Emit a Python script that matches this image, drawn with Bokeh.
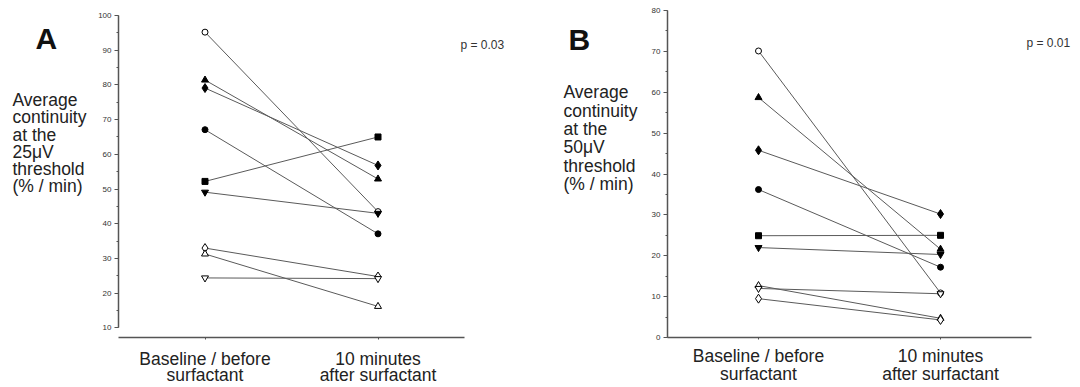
from bokeh.plotting import figure
from bokeh.layouts import row
from bokeh.models import ColumnDataSource, FixedTicker, SingleIntervalTicker, Label, Range1d
from bokeh.embed import file_html
from bokeh.resources import INLINE

# ---------------- data ----------------
timepoints = [0, 1]
time_labels = ["Baseline / before\nsurfactant", "10 minutes\nafter surfactant"]

a_markers = ["circle", "triangle", "diamond", "circle", "square",
             "inverted_triangle", "diamond", "triangle", "inverted_triangle"]
a_filled = [False, True, True, True, True, True, False, False, False]
a_baseline = [95.2, 81.4, 79.1, 67.1, 52.2, 49.1, 33.0, 31.3, 24.4]
a_after = [43.5, 52.9, 56.8, 37.1, 65.0, 43.0, 24.8, 16.2, 24.2]

b_markers = ["circle", "triangle", "diamond", "circle", "square",
             "inverted_triangle", "triangle", "inverted_triangle", "diamond"]
b_filled = [False, True, True, True, True, True, False, False, False]
b_baseline = [70.1, 58.7, 45.8, 36.2, 24.9, 22.0, 12.7, 12.0, 9.5]
b_after = [10.9, 21.6, 30.2, 17.2, 25.0, 20.3, 4.7, 10.7, 4.3]

a_title = "Average\ncontinuity\nat the\n25\u03bcV\nthreshold\n(% / min)"
b_title = "Average\ncontinuity\nat the\n50\u03bcV\nthreshold\n(% / min)"
a_pvalue = "p = 0.03"
b_pvalue = "p = 0.01"

FONT = "Liberation Sans"
SIZES = {"circle": 6, "triangle": 7, "diamond": 9, "square": 6, "inverted_triangle": 7}
H = 387
TOP, BOTTOM = 8, 49          # shared frame borders (frames are aligned in a row)


def text_panel(width, letter, letter_pos, title, title_pos, title_lh):
    """Narrow figure for the panel letter and the horizontal y-axis title.
    Its ranges are set in canvas pixels so the texts sit where the reference has them."""
    t = figure(width=width, height=H, output_backend="svg", toolbar_location=None,
               x_axis_type=None, y_axis_type=None, title=None,
               x_range=Range1d(0, width), y_range=Range1d(H - BOTTOM, TOP),
               min_border_left=0, min_border_right=0,
               min_border_top=TOP, min_border_bottom=BOTTOM)
    t.outline_line_color = None
    t.add_layout(Label(x=letter_pos[0], y=letter_pos[1],
                       text=letter, text_font=FONT, text_font_size="30px",
                       text_font_style="bold", text_color="#111111",
                       text_baseline="top"))
    t.add_layout(Label(x=title_pos[0], y=title_pos[1],
                       text=title, text_font=FONT, text_font_size="17.5px",
                       text_color="#222222", text_baseline="top",
                       text_line_height=title_lh))
    return t


def make_panel(width, x_hi, y_lo, y_hi, y_bounds,
               markers, filled, base, after, pval, pval_pos, label_standoff, label_lh):
    p = figure(width=width, height=H, output_backend="svg", toolbar_location=None,
               x_range=Range1d(-0.5, x_hi), y_range=Range1d(y_lo, y_hi),
               min_border_left=25, min_border_right=0,
               min_border_top=TOP, min_border_bottom=BOTTOM)
    p.xgrid.visible = False
    p.ygrid.visible = False
    p.outline_line_color = None
    p.background_fill_color = "white"

    # connecting lines
    xs = [list(timepoints) for _ in base]
    ys = [[b, a] for b, a in zip(base, after)]
    p.multi_line(xs=xs, ys=ys, line_color="#5a5a5a", line_width=1)

    # markers: open first, then filled
    for want_filled in (False, True):
        xx, yy, mm, ss, fc = [], [], [], [], []
        for m, f, b, a in zip(markers, filled, base, after):
            if f != want_filled:
                continue
            for t, v in zip(timepoints, (b, a)):
                xx.append(t)
                yy.append(v)
                mm.append(m)
                ss.append(SIZES[m])
                fc.append("black" if f else "white")
        src = ColumnDataSource(dict(x=xx, y=yy, marker=mm, size=ss, fill=fc))
        p.scatter("x", "y", source=src, marker="marker", size="size",
                  fill_color="fill", line_color="black", line_width=1)

    # y axis
    ya = p.yaxis[0]
    ya.ticker = SingleIntervalTicker(interval=10, num_minor_ticks=2)
    ya.bounds = y_bounds
    ya.axis_line_color = "#555555"
    ya.axis_line_width = 1.5
    ya.major_tick_line_color = "#555555"
    ya.minor_tick_line_color = "#555555"
    ya.major_tick_out = 4
    ya.major_tick_in = 0
    ya.minor_tick_out = 2
    ya.minor_tick_in = 0
    ya.major_label_standoff = 3
    ya.major_label_text_font = FONT
    ya.major_label_text_font_size = "8px"
    ya.major_label_text_color = "#333333"

    # x axis
    xa = p.xaxis[0]
    xa.ticker = FixedTicker(ticks=timepoints)
    xa.bounds = (-0.5, 1.5)
    xa.major_label_overrides = {t: lab for t, lab in zip(timepoints, time_labels)}
    xa.axis_line_color = "#555555"
    xa.axis_line_width = 1.5
    xa.major_tick_line_color = "#555555"
    xa.major_tick_out = 2
    xa.major_tick_in = 0
    xa.minor_tick_line_color = None
    xa.major_label_standoff = label_standoff
    xa.major_label_text_font = FONT
    xa.major_label_text_font_size = "17.5px"
    xa.major_label_text_color = "#222222"
    xa.major_label_text_line_height = label_lh

    p.add_layout(Label(x=pval_pos[0], y=pval_pos[1], x_units="screen", y_units="screen",
                       text=pval, text_font=FONT, text_font_size="12px",
                       text_color="#333333", text_baseline="top"))
    return p


tA = text_panel(93, "A", (35, 21.5), a_title, (12, 90), 0.86)
pA = make_panel(462, 2.026, 7.24, 102.01, (10, 100),
                a_markers, a_filled, a_baseline, a_after,
                a_pvalue, (342, 299.8), 9, 0.82)
tB = text_panel(87, "B", (13, 23), b_title, (8, 82), 0.92)
pB = make_panel(438, 1.769, 0, 80.49, (0, 80),
                b_markers, b_filled, b_baseline, b_after,
                b_pvalue, (359, 301.8), 6, 0.9)

layout = row(tA, pA, tB, pB)
open("out.html", "w").write(file_html(layout, INLINE))
